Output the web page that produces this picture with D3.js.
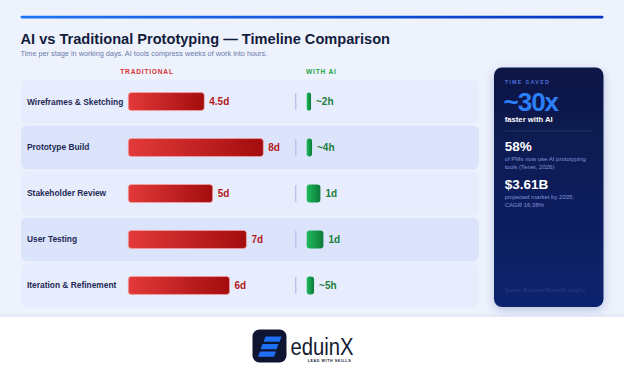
<!DOCTYPE html>
<html>
<head>
<meta charset="utf-8">
<script src="https://cdn.jsdelivr.net/npm/d3@7"></script>
<style>
  html, body { margin: 0; padding: 0; background: #eef2fd; }
  svg { display: block; font-family: "Liberation Sans", Arial, sans-serif; }
</style>
</head>
<body>
<svg id="chart" width="624" height="375"></svg>
<script>
// stages and durations
var stages = ["Wireframes & Sketching", "Prototype Build", "Stakeholder Review", "User Testing", "Iteration & Refinement"];
var tradDays = [4.5, 8, 5, 7, 6];
var tradLabels = ["4.5d", "8d", "5d", "7d", "6d"];
var aiDays = [0.26, 0.32, 0.82, 1.0, 0.44];   // visual bar length in days
var aiLabels = ["~2h", "~4h", "1d", "1d", "~5h"];

var statValues = ["58%", "$3.61B"];
var statNotes = [["of PMs now use AI prototyping", "tools (Tenet, 2026)"], ["projected market by 2035,", "CAGR 16.38%"]];

var W = 624, H = 375;
var svg = d3.select("#chart");
var defs = svg.append("defs");

function hgrad(id, c0, c1, vertical) {
    var g = defs.append("linearGradient").attr("id", id)
        .attr("x1", 0).attr("y1", 0)
        .attr("x2", vertical ? 0 : 1).attr("y2", vertical ? 1 : 0);
    g.append("stop").attr("offset", "0%").attr("stop-color", c0);
    g.append("stop").attr("offset", "100%").attr("stop-color", c1);
}
hgrad("topRule", "#1f74f5", "#0636c3");
hgrad("redBar", "#e33a3a", "#a30c0e");
hgrad("greenBar", "#1fba5c", "#0c7a39");
hgrad("panel", "#0b1745", "#0d236e", true);

var shadow = defs.append("filter").attr("id", "shadow")
    .attr("x", "-30%").attr("y", "-20%").attr("width", "160%").attr("height", "140%");
shadow.append("feDropShadow").attr("dx", 0).attr("dy", 3).attr("stdDeviation", 5)
    .attr("flood-color", "#1a2a80").attr("flood-opacity", 0.25);

var bandShadow = defs.append("filter").attr("id", "bandShadow")
    .attr("x", "-5%").attr("y", "-50%").attr("width", "110%").attr("height", "200%");
bandShadow.append("feDropShadow").attr("dx", 0).attr("dy", -1).attr("stdDeviation", 2)
    .attr("flood-color", "#8090c0").attr("flood-opacity", 0.15);

// background
svg.append("rect").attr("width", W).attr("height", H).attr("fill", "#eef2fd");

// top rule
svg.append("rect").attr("x", 20.5).attr("y", 15.8).attr("width", 583).attr("height", 2.6)
    .attr("rx", 1.3).attr("fill", "url(#topRule)");

// title
svg.append("text").attr("x", 20.5).attr("y", 43.5)
    .attr("font-size", 14.6).attr("font-weight", "bold").attr("fill", "#131c3d")
    .text("AI vs Traditional Prototyping \u2014 Timeline Comparison");
svg.append("text").attr("x", 20.5).attr("y", 55.5)
    .attr("font-size", 7.3).attr("fill", "#6b7bab")
    .text("Time per stage in working days. AI tools compress weeks of work into hours.");

// scales
var y = d3.scaleBand().domain(stages).range([79.5, 307.5]).paddingInner(0.04);
var x = d3.scaleLinear().domain([0, 8]).range([128.3, 263.3]);
var xa = d3.scaleLinear().domain([0, 1]).range([306.7, 323.4]);
var barH = 18;
var dividerX = 295.7;

// column headers
svg.append("text").attr("x", 147).attr("y", 74).attr("text-anchor", "middle")
    .attr("font-size", 6.6).attr("font-weight", "bold").attr("letter-spacing", 0.8)
    .attr("fill", "#d63232").text("TRADITIONAL");
svg.append("text").attr("x", 306).attr("y", 74)
    .attr("font-size", 6.6).attr("font-weight", "bold").attr("letter-spacing", 0.8)
    .attr("fill", "#22a54b").text("WITH AI");

var rows = svg.append("g").selectAll("g")
    .data(stages)
    .enter().append("g")
    .attr("transform", function(d) { return "translate(0," + y(d) + ")"; });

rows.append("rect")
    .attr("x", 21).attr("width", 458).attr("height", y.bandwidth())
    .attr("rx", 6)
    .attr("fill", function(d, i) { return i % 2 ? "#dce4fc" : "#e8edfd"; });

var cy = y.bandwidth() / 2;

rows.append("text")
    .attr("x", 27).attr("y", cy).attr("dy", "0.35em")
    .attr("font-size", 8.4).attr("font-weight", "bold").attr("fill", "#1e2a55")
    .text(function(d) { return d; });

rows.append("rect")
    .attr("x", x(0)).attr("y", cy - barH / 2)
    .attr("width", function(d, i) { return x(tradDays[i]) - x(0); })
    .attr("height", barH).attr("rx", 3)
    .attr("fill", "url(#redBar)")
    .attr("stroke", "#f4a5a5").attr("stroke-width", 0.7);

rows.append("text")
    .attr("x", function(d, i) { return x(tradDays[i]) + 5; })
    .attr("y", cy).attr("dy", "0.36em")
    .attr("font-size", 10).attr("font-weight", "bold").attr("fill", "#b3181b")
    .text(function(d, i) { return tradLabels[i]; });

rows.append("line")
    .attr("x1", dividerX).attr("x2", dividerX)
    .attr("y1", cy - barH / 2 + 0.5).attr("y2", cy + barH / 2 - 0.5)
    .attr("stroke", "#b9c5ea").attr("stroke-width", 1.5);

rows.append("rect")
    .attr("x", xa(0)).attr("y", cy - barH / 2)
    .attr("width", function(d, i) { return xa(aiDays[i]) - xa(0); })
    .attr("height", barH)
    .attr("rx", function(d, i) { return Math.min(3, (xa(aiDays[i]) - xa(0)) / 2); })
    .attr("fill", "url(#greenBar)");

rows.append("text")
    .attr("x", function(d, i) { return xa(aiDays[i]) + 5; })
    .attr("y", cy).attr("dy", "0.36em")
    .attr("font-size", 10).attr("font-weight", "bold").attr("fill", "#1b7d3e")
    .text(function(d, i) { return aiLabels[i]; });

// side panel
var panel = svg.append("g").attr("transform", "translate(494,67.5)");
panel.append("rect").attr("width", 109.5).attr("height", 239.5).attr("rx", 8)
    .attr("fill", "url(#panel)").attr("filter", "url(#shadow)");
panel.append("text").attr("x", 10.7).attr("y", 16.8)
    .attr("font-size", 5.4).attr("font-weight", "bold").attr("letter-spacing", 1.3)
    .attr("fill", "#4d6fd6").text("TIME SAVED");
panel.append("text").attr("x", 9.5).attr("y", 43.2)
    .attr("font-size", 26).attr("font-weight", "bold").attr("letter-spacing", -1)
    .attr("fill", "#2b7ff8").text("~30x");
panel.append("text").attr("x", 10.7).attr("y", 54.8)
    .attr("font-size", 7.7).attr("font-weight", "bold").attr("fill", "#ffffff")
    .text("faster with AI");
panel.append("line").attr("x1", 10.7).attr("x2", 98.7).attr("y1", 63.5).attr("y2", 63.5)
    .attr("stroke", "#ffffff").attr("stroke-opacity", 0.12).attr("stroke-width", 0.8);

var stat = panel.selectAll("g.stat").data(statValues).enter().append("g")
    .attr("class", "stat")
    .attr("transform", function(d, i) { return "translate(10.7," + (83.2 + i * 38.6) + ")"; });
stat.append("text").attr("font-size", 13.5).attr("font-weight", "bold").attr("fill", "#ffffff")
    .text(function(d) { return d; });
stat.selectAll("text.note").data(function(d, i) { return statNotes[i]; }).enter().append("text")
    .attr("class", "note")
    .attr("y", function(d, j) { return 10 + j * 8.2; })
    .attr("font-size", 6).attr("fill", "#8193d6")
    .text(function(d) { return d; });

panel.append("text").attr("x", 10.7).attr("y", 224.7)
    .attr("font-size", 5).attr("fill", "#2c3f8c")
    .text("Source: Business Research Insights");

// footer band with logo
svg.append("rect").attr("x", -10).attr("y", 317).attr("width", W + 20).attr("height", 70)
    .attr("fill", "#ffffff").attr("filter", "url(#bandShadow)");

var logo = svg.append("g").attr("transform", "translate(252.5,329.5)");
logo.append("rect").attr("width", 34).attr("height", 33).attr("rx", 7).attr("fill", "#0e1530");
var stripes = [[11, 7], [8, 14.5], [5.5, 22]];
logo.selectAll("path.stripe").data(stripes).enter().append("path")
    .attr("class", "stripe")
    .attr("d", function(d) {
        return "M" + (d[0] + 2) + "," + d[1] + "h16l-2,5.2h-16z";
    })
    .attr("fill", "#1f6ff5");
svg.append("text").attr("x", 290.5).attr("y", 354.5)
    .attr("font-size", 23).attr("fill", "#141a30")
    .attr("textLength", 63).attr("lengthAdjust", "spacingAndGlyphs")
    .text("eduinX");
svg.append("text").attr("x", 329.5).attr("y", 362).attr("text-anchor", "middle")
    .attr("font-size", 3.6).attr("font-weight", "bold").attr("letter-spacing", 0.6)
    .attr("fill", "#141a30").text("LEAD WITH SKILLS");
</script>
</body>
</html>
